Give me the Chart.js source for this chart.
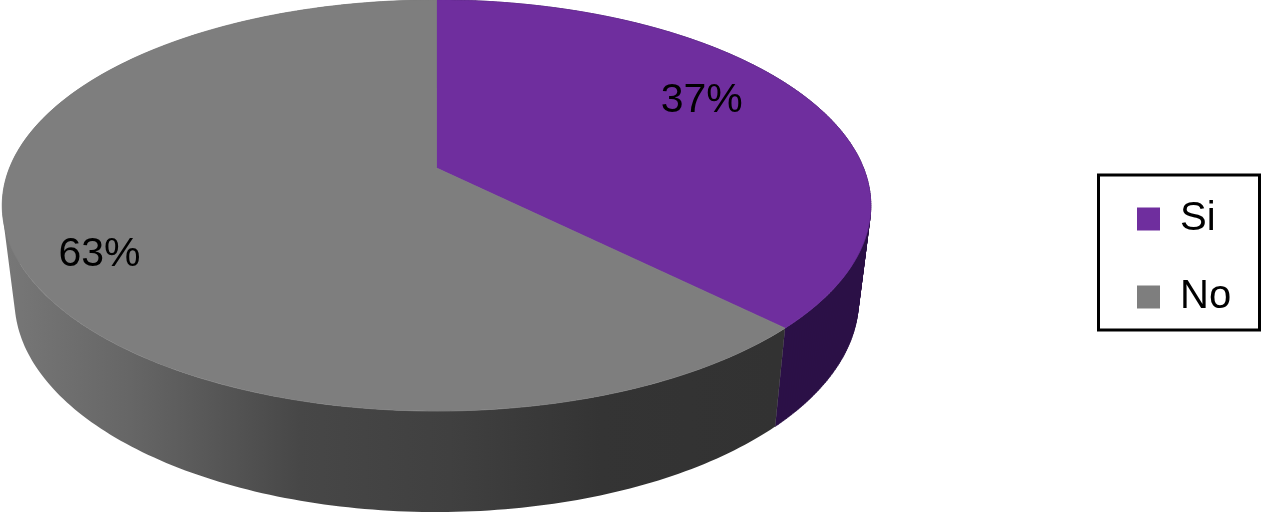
<!DOCTYPE html>
<html>
<head>
<meta charset="utf-8">
<script src="https://cdn.jsdelivr.net/npm/chart.js@4/dist/chart.umd.js"></script>
<style>html,body{margin:0;padding:0;background:#fff}canvas{display:block}</style>
</head>
<body>
<canvas id="c" width="1262" height="513"></canvas>
<script>
const categories = ['Si', 'No'];
const shares = [37.4, 62.6];
const faceColors = ['#6f2e9e', '#7e7e7e'];

const TILT = 0.1825, CX = 436.5;
const TOP = {a: 427, b: 198.7, y0: 168};
const BASE = {a: 414.9, b: 204.9, y0: 261.4};
const labelRadius = [0.7527, 0.8358];
const labelSweep = [0.457, 0.472];

function project(plane, angle, f) {
  const th = angle + Math.PI / 2;
  const x = f * Math.sin(th), v = -f * Math.cos(th);
  const w = 1 - TILT * v;
  return [CX + plane.a * x / w, plane.y0 + plane.b * v / w];
}

Chart.ArcElement.prototype.draw = function (ctx) {
  const s = this.startAngle, e = this.endAngle, n = 180;
  ctx.save();
  ctx.beginPath();
  const apex = project(TOP, s, 0);
  ctx.moveTo(apex[0], apex[1]);
  for (let i = 0; i <= n; i++) {
    const p = project(TOP, s + (e - s) * i / n, 1);
    ctx.lineTo(p[0], p[1]);
  }
  ctx.closePath();
  ctx.fillStyle = this.options.backgroundColor;
  ctx.strokeStyle = this.options.backgroundColor;
  ctx.lineWidth = 0.8;
  ctx.fill();
  ctx.stroke();
  ctx.restore();
};

const wallPlugin = {
  id: 'wall',
  beforeDatasetsDraw(chart) {
    const ctx = chart.ctx;
    const g = ctx.createLinearGradient(0, 0, 776, 0);
    [[0, '#787878'], [130 / 776, '#666666'], [300 / 776, '#474747'], [450 / 776, '#404040'], [600 / 776, '#343434'], [1, '#323232']]
      .forEach(st => g.addColorStop(st[0], st[1]));
    const wallColors = ['#2b1047', g];
    chart.getDatasetMeta(0).data.forEach((arc, idx) => {
      const s = arc.startAngle, e = arc.endAngle, n = 240;
      ctx.save();
      ctx.fillStyle = wallColors[idx];
      ctx.beginPath();
      for (let i = 0; i < n; i++) {
        const a0 = s + (e - s) * i / n, a1 = s + (e - s) * (i + 1) / n;
        let q = [project(TOP, a0, 1), project(TOP, a1, 1), project(BASE, a1, 1), project(BASE, a0, 1)];
        let area = 0;
        for (let j = 0; j < 4; j++) {
          const m = q[j], o = q[(j + 1) % 4];
          area += m[0] * o[1] - o[0] * m[1];
        }
        if (area < 0) q = q.reverse();
        ctx.moveTo(q[0][0], q[0][1]);
        for (let j = 1; j < 4; j++) ctx.lineTo(q[j][0], q[j][1]);
        ctx.closePath();
      }
      ctx.fill('nonzero');
      if (idx === 0) {
        ctx.strokeStyle = wallColors[0];
        ctx.lineWidth = 0.6;
        ctx.stroke();
      }
      ctx.restore();
    });
  },
  afterDatasetsDraw(chart) {
    const ctx = chart.ctx;
    ctx.save();
    ctx.font = '41px "Liberation Sans"';
    ctx.fillStyle = '#000';
    ctx.textAlign = 'center';
    ctx.textBaseline = 'middle';
    chart.getDatasetMeta(0).data.forEach((arc, idx) => {
      const a = arc.startAngle + (arc.endAngle - arc.startAngle) * labelSweep[idx];
      const p = project(TOP, a, labelRadius[idx]);
      ctx.fillText(Math.round(shares[idx]) + '%', p[0], p[1]);
    });
    ctx.restore();
  },
  afterLayout(chart) {
    const l = chart.legend, w = l.right - l.left, h = l.bottom - l.top;
    l.left = 1137 - 38; l.right = l.left + w;
    l.top = 161; l.bottom = l.top + h;
  },
  afterDraw(chart) {
    const ctx = chart.ctx;
    ctx.save();
    ctx.strokeStyle = '#000';
    ctx.lineWidth = 3;
    ctx.strokeRect(1098.5, 175, 161, 155);
    ctx.restore();
  }
};

new Chart(document.getElementById('c'), {
  type: 'pie',
  data: {
    labels: categories,
    datasets: [{data: shares, backgroundColor: faceColors, borderWidth: 0}]
  },
  options: {
    responsive: false,
    animation: false,
    plugins: {
      tooltip: {enabled: false},
      legend: {
        position: 'right',
        align: 'start',
        labels: {
          boxWidth: 23, boxHeight: 23, padding: 38, color: '#000',
          font: {family: '"Liberation Sans"', size: 40}
        }
      }
    }
  },
  plugins: [wallPlugin]
});
</script>
</body>
</html>
